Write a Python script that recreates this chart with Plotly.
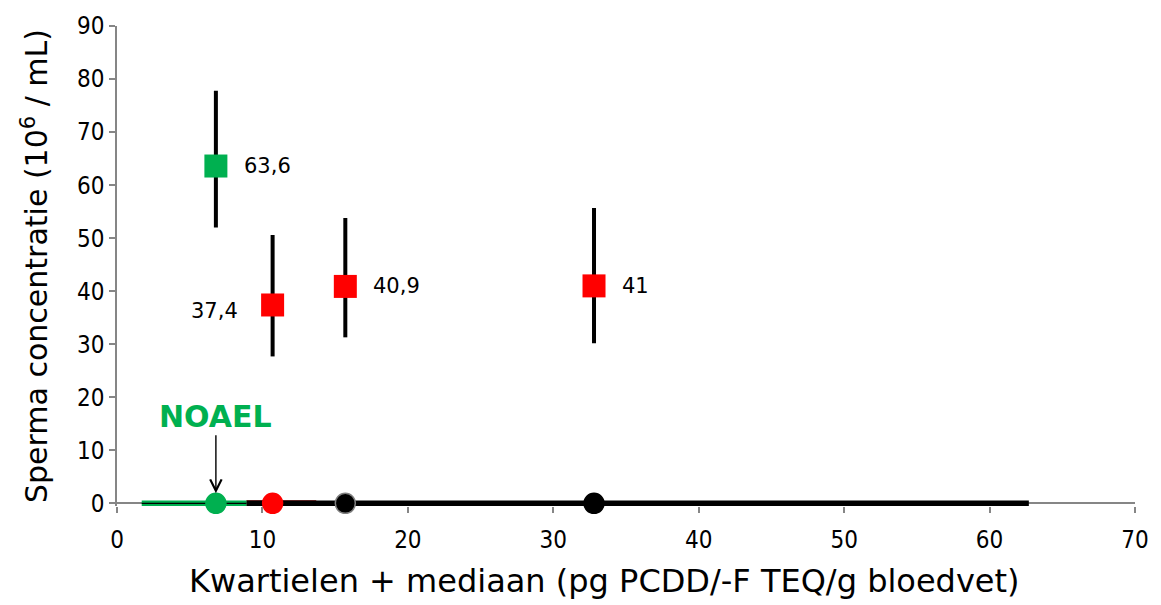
import plotly.graph_objects as go

# Data
x_pos = [6.8, 10.7, 15.7, 32.8]
medians = [63.6, 37.4, 40.9, 41.0]
err_plus = [14.2, 13.2, 12.9, 14.7]
err_minus = [11.6, 9.7, 9.6, 10.8]
labels = ["63,6", "37,4", "40,9", "41"]
square_colors = ["#00B050", "#FF0000", "#FF0000", "#FF0000"]

range_green_x = [1.7, 8.9]
range_red_x = [8.9, 13.7]
range_black_x = [8.9, 62.7]
range_y = [0, 0]

circle_x = [6.8, 10.7, 15.7, 32.8]
circle_y = [0, 0, 0, 0]
circle_colors = ["#00B050", "#FF0000", "#000000", "#000000"]
circle_lines = ["#00B050", "#FF0000", "#7F7F7F", "#000000"]

xticks = [0, 10, 20, 30, 40, 50, 60, 70]
yticks = [0, 10, 20, 30, 40, 50, 60, 70, 80, 90]

x_title = "Kwartielen + mediaan (pg PCDD/-F TEQ/g bloedvet)"
y_title = "Sperma concentratie (10<sup>6</sup> / mL)"

# label placement style (pixel offsets from the median point)
label_anchor = ["left", "right", "left", "left"]
label_xshift = [26, -33, 26, 26]
label_yshift = [0, -6, 0, 0]

tick_font = "DejaVu Sans Condensed, DejaVu Sans, sans-serif"
label_font = "DejaVu Sans, Verdana, sans-serif"

fig = go.Figure()

# range lines at y = 0
fig.add_trace(go.Scatter(x=range_red_x, y=range_y, mode="lines",
                         line=dict(color="#8B0000", width=6),
                         showlegend=False, hoverinfo="skip"))
fig.add_trace(go.Scatter(x=range_black_x, y=range_y, mode="lines",
                         line=dict(color="#000000", width=5.5),
                         showlegend=False, hoverinfo="skip"))
fig.add_trace(go.Scatter(x=range_green_x, y=range_y, mode="lines",
                         line=dict(color="#00B050", width=5.5),
                         showlegend=False, hoverinfo="skip"))
fig.add_trace(go.Scatter(x=range_green_x, y=range_y, mode="lines",
                         line=dict(color="#000000", width=1.3),
                         showlegend=False, hoverinfo="skip"))

# circles at y = 0
fig.add_trace(go.Scatter(x=circle_x, y=circle_y, mode="markers",
                         marker=dict(symbol="circle", size=20, color=circle_colors,
                                     line=dict(color=circle_lines, width=1.5)),
                         cliponaxis=False, showlegend=False))

# medians with error bars
fig.add_trace(go.Scatter(
    x=x_pos, y=medians, mode="markers",
    marker=dict(symbol="square", size=23, color=square_colors, line=dict(width=0)),
    error_y=dict(type="data", symmetric=False, array=err_plus, arrayminus=err_minus,
                 thickness=4, width=0, color="#000000"),
    cliponaxis=False, showlegend=False))

for xv, yv, txt, anc, xs, ys in zip(x_pos, medians, labels, label_anchor,
                                    label_xshift, label_yshift):
    fig.add_annotation(x=xv, y=yv, text=txt, showarrow=False, xanchor=anc,
                       yanchor="middle", xshift=xs, yshift=ys,
                       font=dict(family=label_font, size=21, color="#000000"))

# NOAEL annotation
fig.add_annotation(x=x_pos[0], y=1.9, ax=0, ay=-77, axref="pixel", ayref="pixel",
                   text="<b>NOAEL</b>", showarrow=True, arrowhead=5, arrowsize=1.6,
                   arrowwidth=1.4, arrowcolor="#000000",
                   font=dict(family=label_font, size=30, color="#00B050"))

# x-axis title
fig.add_annotation(xref="paper", yref="paper", x=0.479, y=0, yanchor="middle",
                   yshift=-75, text=x_title, showarrow=False,
                   font=dict(family=label_font, size=32, color="#000000"))

axis_color = "#868686"
fig.update_xaxes(range=[0, 70], tickvals=xticks, showline=False,
                 ticks="outside", ticklen=6, tickcolor=axis_color, tickwidth=1.5,
                 ticklabelstandoff=6,
                 showgrid=False, zeroline=False,
                 tickfont=dict(family=tick_font, size=24, color="#000000"))
fig.update_yaxes(range=[-0.5, 90], tickvals=yticks, showline=True, linecolor=axis_color,
                 linewidth=1.5, ticks="outside", ticklen=6, tickcolor=axis_color,
                 tickwidth=1.5, showgrid=False,
                 zeroline=True, zerolinecolor=axis_color, zerolinewidth=1.5,
                 tickfont=dict(family=tick_font, size=24, color="#000000"),
                 title=dict(text=y_title,
                            font=dict(family=label_font, size=30, color="#000000"),
                            standoff=20))

fig.update_layout(width=1161, height=605, margin=dict(l=117, r=26, t=20, b=99),
                  plot_bgcolor="white", paper_bgcolor="white")

fig.write_html("out.html")
